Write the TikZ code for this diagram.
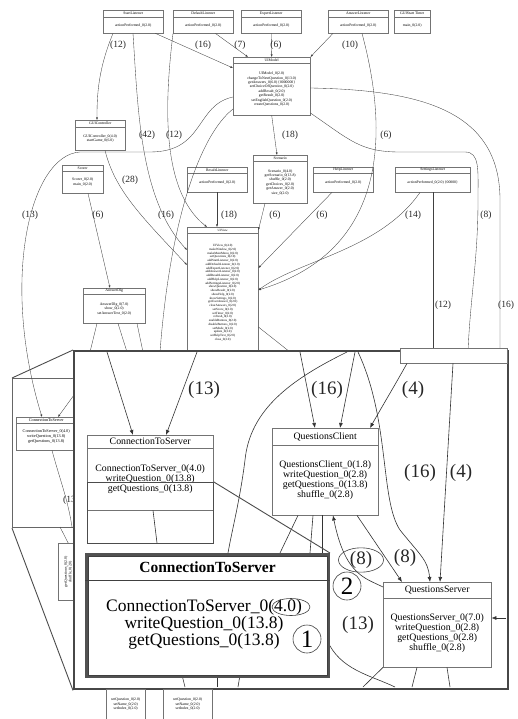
\documentclass[tikz,border=0pt]{standalone}
\usepackage{fontspec}
\setmainfont{Liberation Serif}
\usetikzlibrary{positioning,calc,arrows.meta,shapes.geometric}
\newcommand\boxfont{\fontsize{3.8}{4.4}\selectfont}
\newcommand\viewfont{\fontsize{3.2}{3.75}\selectfont}
\newcommand\sinsetfont{\fontsize{4.2}{4.8}\selectfont}
\newcommand\insetfont{\fontsize{9.8}{10}\selectfont}
\newcommand\bigfont{\fontsize{17.5}{15.5}\selectfont}
\newcommand\bigtitlefont{\fontsize{15.5}{16}\selectfont\bfseries}
\tikzset{
  link/.style={draw=black!75,line width=0.35pt},
  callarr/.style={link,-{Latex[length=2.6pt,width=2pt]}},
  bigedge/.style={draw=black!80,line width=0.6pt},
  bigcall/.style={bigedge,-{Latex[length=5pt,width=4pt]}},
  box/.style={draw=black!55,fill=white,line width=0.4pt,inner sep=0pt},
  rule/.style={draw=black!55,line width=0.4pt},
  cnt/.style={font=\fontsize{9.5}{10}\selectfont,text=black!85,inner sep=0pt},
  bigcnt/.style={font=\fontsize{19}{19}\selectfont,text=black!85,inner sep=0pt},
  smallframe/.style={draw=black!60,line width=1.1pt,fill=white,inner sep=0pt},
  bigframe/.style={draw=black!72,line width=2.4pt,fill=white,inner sep=0pt},
  srcframe/.style={draw=black!70,line width=0.9pt,inner sep=0pt},
  bigbox/.style={draw=black!68,line width=3pt,fill=white,inner sep=0pt},
  annot/.style={draw=black!75,line width=0.6pt,inner sep=0pt},
}
% name, x, y, width, height, title height, font, title, body
\newcommand\umlbox[9]{%
  \node[box,minimum width=#4pt,minimum height=#5pt,anchor=north west] (#1) at (#2,#3) {};
  \draw[rule] ([yshift=-#6pt]#1.north west) -- ([yshift=-#6pt]#1.north east);
  \node[font=#7,inner sep=0pt] (#1-t) at ([yshift=-#6pt/2]#1.north) {#8};
  \node[font=#7,align=center,inner sep=0pt] (#1-b) at ($([yshift=-#6pt]#1.north)!.5!(#1.south)$) {#9};
}
\begin{document}
\begin{tikzpicture}[x=1pt,y=-1pt]
\useasboundingbox (0,0) rectangle (518,719);
% call graph
\umlbox{startL}{103}{10}{60}{23}{7}{\boxfont}{StartListener}{actionPerformed\_0(2.0)}
\umlbox{defL}{173}{10}{60}{23}{7}{\boxfont}{DefaultListener}{actionPerformed\_0(2.0)}
\umlbox{expL}{241}{10}{60}{23}{7}{\boxfont}{ExpertListener}{actionPerformed\_0(2.0)}
\umlbox{ansL}{328}{10}{60}{23}{7}{\boxfont}{AnswerListener}{actionPerformed\_0(2.0)}
\umlbox{timer}{394}{10}{36}{23}{7}{\boxfont}{GUIStart Timer}{main\_0(2.0)}
\umlbox{model}{233}{57}{77}{58}{6}{\boxfont}{UIModel}{UIModel\_0(2.0)\\changeToNextQuestion\_0(13.0)\\getAnswers\_0(6.0) \{0000000\}\\setChoiceOfQuestion\_0(2.0)\\addResult\_0(2.0)\\getResult\_0(2.0)\\setEnglishQuestion\_0(2.0)\\createQuestions\_0(2.0)}
\umlbox{ctrl}{75}{120}{50}{30}{7}{\boxfont}{GUIController}{GUIController\_0(4.0)\\startGame\_0(6.0)}
\umlbox{scorer}{62}{165}{41}{28}{6}{\boxfont}{Scorer}{Scorer\_0(2.0)\\main\_0(2.0)}
\umlbox{resL}{187}{167}{60}{25}{6}{\boxfont}{ResultListener}{actionPerformed\_0(2.0)}
\umlbox{scen}{253}{155}{54}{48}{6}{\boxfont}{Scenario}{Scenario\_0(4.0)\\getScenario\_0(13.8)\\shuffle\_0(2.0)\\getChoices\_0(2.0)\\getAnswer\_0(2.0)\\size\_0(2.0)}
\umlbox{helpL}{313}{167}{60}{25}{6}{\boxfont}{HelpListener}{actionPerformed\_0(2.0)}
\umlbox{setL}{395}{167}{75}{25}{6}{\boxfont}{SettingsListener}{actionPerformed\_0(2.0) \{00000\}}
\umlbox{view}{187}{227}{71}{125}{6}{\viewfont}{UIView}{UIView\_0(4.0)\\makeWindow\_0(2.0)\\makeMainMenu\_0(2.0)\\setQuestions\_0(2.0)\\addStartListener\_0(2.0)\\addDefaultListener\_0(2.0)\\addExpertListener\_0(2.0)\\addAnswerListener\_0(2.0)\\addResultListener\_0(2.0)\\addHelpListener\_0(2.0)\\addSettingsListener\_0(2.0)\\showQuestion\_0(4.0)\\showResult\_0(2.0)\\showHelp\_0(2.0)\\showSettings\_0(2.0)\\getUserAnswer\_0(2.0)\\clearAnswers\_0(2.0)\\setScore\_0(2.0)\\setTimer\_0(2.0)\\refresh\_0(2.0)\\enableButtons\_0(2.0)\\disableButtons\_0(2.0)\\setMode\_0(2.0)\\update\_0(2.0)\\setHelpText\_0(2.0)\\close\_0(2.0)}
\umlbox{dlg}{83}{288}{62}{35}{6}{\boxfont}{AnswerDlg}{AnswerDlg\_0(7.0)\\show\_0(2.0)\\setAnswerText\_0(2.0)}

\draw[callarr] ([xshift=10pt]startL.south west) .. controls (98,70) and (97,95) .. ([xshift=22pt]ctrl.north west);
\draw[callarr] ([xshift=30pt]startL.south west) .. controls (138,110) and (140,200) .. ([yshift=-23pt]view.north west);
\draw[callarr] ([xshift=-8pt]startL.south east) -- ([yshift=-11pt]model.north west);
\draw[callarr] (defL.south west) .. controls (165,100) and (160,190) .. ([xshift=20pt]view.north west);
\draw[callarr] ([xshift=-18pt]defL.south east) -- ([xshift=15pt]model.north west);
\draw[callarr] (expL.south) -- (model.north);
\draw[callarr] ([xshift=5pt]ansL.south west) -- (model.north east);
\draw[callarr] ([xshift=34pt]ansL.south west) .. controls (388,130) and (390,250) .. ([yshift=-63pt]view.north east);
\draw[link] ([yshift=-52pt]model.north west) .. controls (200,135) and (170,220) .. (160,352);
\draw[callarr] ([xshift=30pt]ctrl.south west) .. controls (115,190) and (140,215) .. ([yshift=-38pt]view.north west);
\draw[callarr] (model.south) -- ([xshift=24pt]scen.north west);
\draw[link] ([yshift=-31pt]model.north east) .. controls (420,90) and (500,110) .. (500,200) -- (500,352);
\draw[link] ([yshift=-56pt]model.north east) .. controls (350,140) and (360,152) .. (400,152) -- (465,152) .. controls (480,152) and (478,170) .. (478,200) .. controls (478,260) and (470,300) .. (468,352);
\draw[link] ([xshift=38pt]setL.south west) -- (433,352);
\draw[callarr] ([xshift=25pt]setL.south west) .. controls (380,250) and (300,260) .. ([yshift=-63pt]view.north east);
\draw[callarr] ([xshift=19pt]helpL.south west) -- ([yshift=-41pt]view.north east);
\draw[callarr] ([xshift=12pt]scen.south west) -- ([yshift=-3pt]view.north east);
\draw[callarr] ([xshift=30pt]resL.south west) -- ([xshift=30pt]view.north west);
\draw[callarr] ([xshift=26pt]scorer.south west) -- ([xshift=27pt]dlg.north west);
\draw[link] ([xshift=14pt]dlg.south west) -- (90,352);
\draw[link] ([xshift=35pt]dlg.south west) -- (127,352);
\draw[link] ([xshift=54pt]dlg.south west) -- (143,352);
\draw[link] ([yshift=-100pt]view.north east) -- (290,352);

\node[cnt] (l12a) at (118,45) {(12)};
\node[cnt] (l16a) at (203,45) {(16)};
\node[cnt] (l7) at (240,45) {(7)};
\node[cnt] (l6a) at (276,45) {(6)};
\node[cnt] (l10) at (350,45) {(10)};
\node[cnt] (l42) at (147,135) {(42)};
\node[cnt] (l12b) at (174,135) {(12)};
\node[cnt] (l18a) at (290,135) {(18)};
\node[cnt] (l6b) at (386,135) {(6)};
\node[cnt] (l28) at (130,180) {(28)};
\node[cnt] (l13a) at (30,215) {(13)};
\node[cnt] (l6c) at (98,215) {(6)};
\node[cnt] (l16b) at (166,215) {(16)};
\node[cnt] (l18b) at (229,215) {(18)};
\node[cnt] (l6d) at (275,215) {(6)};
\node[cnt] (l6e) at (322,215) {(6)};
\node[cnt] (l14) at (413,215) {(14)};
\node[cnt] (l8a) at (486,215) {(8)};
\node[cnt] (l12c) at (443,305) {(12)};
\node[cnt] (l16c) at (506,305) {(16)};

% small zoom
\node[smallframe,minimum width=100pt,minimum height=149pt,anchor=north west] (szoom) at (12,378) {};
\umlbox{sctr}{16}{417}{60}{33}{6}{\sinsetfont}{ConnectionToServer}{ConnectionToServer\_0(4.0)\\writeQuestion\_0(13.8)\\getQuestions\_0(13.8)}
\draw[callarr] ([yshift=-40pt]model.north west) .. controls (195,105) and (205,152) .. (150,152) -- (80,152) .. controls (30,155) and (0,280) .. ([xshift=26pt]sctr.north west);
\draw[callarr] (82,384) -- ([xshift=42pt]sctr.north west);
\draw[link] ([xshift=36pt]sctr.south west) .. controls (60,480) and (68,500) .. (72,527);
\node[cnt,anchor=west] (l13b) at (63,500) {(13)};
\node[box,minimum width=20pt,minimum height=57pt,anchor=north west] (vbox) at (58,543) {};
\node[font=\boxfont,rotate=90,align=center] (vbox-t) at (vbox.center) {getQuestions\_0(2.0)\\shuffle\_0(2.0)};
\draw[link] (60,527) -- (vbox.north);

% big zoom
\node[bigframe,minimum width=434pt,minimum height=338pt,anchor=north west] (bzoom) at (73,350) {};
\node[box,minimum width=107pt,minimum height=15pt,anchor=north west] (vfrag) at (400,348) {};
\umlbox{mctr}{87}{435}{126}{75}{13}{\insetfont}{ConnectionToServer}{ConnectionToServer\_0(4.0)\\writeQuestion\_0(13.8)\\getQuestions\_0(13.8)}
\umlbox{qcl}{272}{428}{106}{87}{17}{\insetfont}{QuestionsClient}{QuestionsClient\_0(1.8)\\writeQuestion\_0(2.8)\\getQuestions\_0(13.8)\\shuffle\_0(2.8)}
\umlbox{qsv}{383}{582}{108}{85}{16}{\insetfont}{QuestionsServer}{QuestionsServer\_0(7.0)\\writeQuestion\_0(2.8)\\getQuestions\_0(2.8)\\shuffle\_0(2.8)}
\node[srcframe,minimum width=126pt,minimum height=61pt,anchor=north west] (src) at (87,482) {};

\draw[bigcall] (107,352) -- ([xshift=46pt]mctr.north west);
\draw[bigcall] (197,352) -- ([xshift=79pt]mctr.north west);
\draw[bigcall] (300,352) -- ([xshift=43pt]qcl.north west);
\draw[bigcall] (355,352) -- ([xshift=68pt]qcl.north west);
\draw[bigcall] ([xshift=7pt]vfrag.south west) .. controls (395,385) and (380,410) .. ([xshift=98pt]qcl.north west);
\draw[bigedge] (347,352) .. controls (290,380) and (250,410) .. (245,460) .. controls (240,500) and (232,530) .. (228,553);
\draw[bigcall] (358,352) .. controls (390,420) and (380,500) .. (400,530) .. controls (420,555) and (428,560) .. ([xshift=47pt]qsv.north west);
\draw[bigcall] ([xshift=53pt]vfrag.south west) -- ([xshift=57pt]qsv.north west);
\draw[bigcall] ([xshift=85pt]qcl.south west) -- ([xshift=19pt]qsv.north west);
\draw[bigcall] ([yshift=-5pt]qsv.north west) .. controls (365,578) and (345,575) .. ([xshift=61pt]qcl.south west);
\draw[bigcall] (506,618) -- ([yshift=-36pt]qsv.north east);
\draw[bigedge] ([xshift=26pt]qcl.south west) -- (280,553);
\draw[bigedge] ([xshift=41pt]qcl.south west) -- (310,553);
\draw[bigedge] ([xshift=50pt]qcl.south west) -- (322,553);
\draw[bigedge] (qsv.south west) -- (363,687);
\draw[bigedge] ([xshift=34pt]qsv.south west) -- (412,687);
\draw[bigedge] ([xshift=64pt]qsv.south west) -- (450,687);
\draw[bigedge] ([xshift=66pt]mctr.south west) -- (157,543);
\draw[bigedge] (327,640) .. controls (340,670) and (370,675) .. (395,687);
\draw[bigedge] (182,675) -- (185,687);
\draw[bigedge] (217,675) -- (217,687);
\draw[bigedge] (240,675) -- (238,687);

\node[bigcnt] (l13c) at (204,390) {(13)};
\node[bigcnt] (l16d) at (327,390) {(16)};
\node[bigcnt] (l4a) at (413,390) {(4)};
\node[bigcnt] (l16e) at (420,473) {(16)};
\node[bigcnt] (l4b) at (461,473) {(4)};
\node[bigcnt] (l8c) at (405,558) {(8)};
\node[bigcnt] (l13d) at (358,625) {(13)};
\node[bigcnt,ellipse,annot,minimum width=45pt,minimum height=20pt] (l8b) at (361,560) {(8)};

% magnified box
\node[bigbox,minimum width=242pt,minimum height=122pt,anchor=north west] (lctr) at (85,553) {};
\draw[annot,line width=0.8pt] ([shift={(3pt,-3pt)}]lctr.north west) rectangle ([shift={(-3pt,3pt)}]lctr.south east);
\draw[annot,line width=0.8pt] ([yshift=-27pt]lctr.north west) -- ([yshift=-27pt]lctr.north east);
\node[font=\bigtitlefont,inner sep=0pt] (lctr-t) at ([yshift=-14pt]lctr.north) {ConnectionToServer};
\node[font=\bigfont,align=center,inner sep=0pt] (lctr-b) at (204,624) {ConnectionToServer\_0(4.0)\\writeQuestion\_0(13.8)\\getQuestions\_0(13.8)};
\node[annot,ellipse,minimum width=38pt,minimum height=17pt] (mark40) at (291,607) {};
\node[annot,circle,minimum size=28pt,font=\fontsize{25}{25}\selectfont] (mark1) at (307,639) {1};
\node[annot,circle,minimum size=28pt,font=\fontsize{25}{25}\selectfont] (mark2) at (347,586) {2};

% zoom connectors
\draw[srcframe] (src.north east) -- (lctr.north east);
\draw[srcframe] (szoom.north west) -- (bzoom.north west);
\draw[srcframe] (szoom.south west) -- (bzoom.south west);

% below the zoom
\node[box,minimum width=39pt,minimum height=30pt,anchor=north west] (btm1) at (106,689) {};
\node[font=\boxfont,align=center] (btm1-b) at (btm1) {setQuestion\_0(2.0)\\setName\_0(2.0)\\setIndex\_0(2.0)};
\node[box,minimum width=49pt,minimum height=30pt,anchor=north west] (btm2) at (163,689) {};
\node[font=\boxfont,align=center] (btm2-b) at (btm2) {setQuestion\_0(2.0)\\setName\_0(2.0)\\setIndex\_0(2.0)};
\end{tikzpicture}
\end{document}
